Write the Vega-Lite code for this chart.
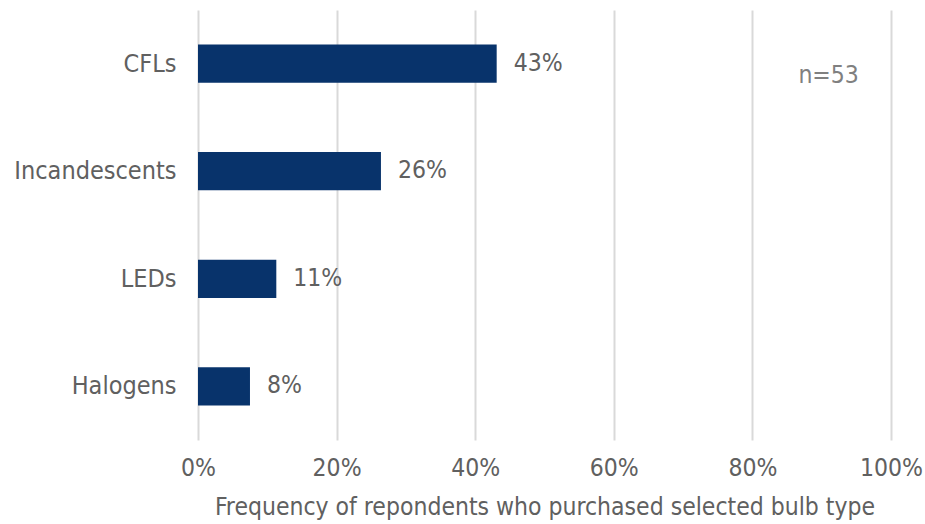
{
  "$schema": "https://vega.github.io/schema/vega-lite/v6.json",
  "width": 693,
  "height": 430,
  "autosize": "none",
  "padding": {"left": 198, "top": 10, "right": 34, "bottom": 84},
  "config": {
    "font": "DejaVu Sans Condensed, Liberation Sans",
    "view": {"stroke": null},
    "axis": {"labelFont": "DejaVu Sans Condensed, Liberation Sans", "titleFont": "DejaVu Sans Condensed, Liberation Sans", "labelColor": "#606060", "titleColor": "#606060"}
  },
  "datasets": {
    "bars": [
      {"type": "CFLs", "value": 0.431, "label": "43%"},
      {"type": "Incandescents", "value": 0.264, "label": "26%"},
      {"type": "LEDs", "value": 0.113, "label": "11%"},
      {"type": "Halogens", "value": 0.075, "label": "8%"}
    ],
    "note": [{"type": "CFLs", "value": 0.91, "label": "n=53"}]
  },
  "layer": [
    {
      "data": {"name": "bars"},
      "mark": {"type": "bar", "color": "#08336B"},
      "encoding": {
        "y": {"field": "type", "type": "nominal", "sort": ["CFLs", "Incandescents", "LEDs", "Halogens"],
          "scale": {"domain": ["CFLs", "Incandescents", "LEDs", "Halogens"], "paddingInner": 0.645, "paddingOuter": 0.32},
          "axis": {"title": null, "domain": false, "ticks": false, "labelFontSize": 25, "labelPadding": 22, "grid": false}},
        "x": {"field": "value", "type": "quantitative",
          "scale": {"domain": [0, 1], "nice": false},
          "axis": {"format": "%", "values": [0, 0.2, 0.4, 0.6, 0.8, 1], "domain": false, "ticks": false, "labelOverlap": false, "labelBound": false, "labelFlush": false,
            "grid": true, "gridColor": "#d9d9d9", "gridWidth": 2,
            "labelFontSize": 24.5, "labelPadding": 16,
            "title": "Frequency of repondents who purchased selected bulb type", "titleFontSize": 24.5, "titleFontWeight": "normal", "titlePadding": 16}}
      }
    },
    {
      "data": {"name": "bars"},
      "mark": {"type": "text", "align": "left", "dx": 17, "fontSize": 24.5, "color": "#606060"},
      "encoding": {
        "y": {"field": "type", "type": "nominal", "sort": ["CFLs", "Incandescents", "LEDs", "Halogens"]},
        "x": {"field": "value", "type": "quantitative"},
        "text": {"field": "label"}
      }
    },
    {
      "data": {"name": "note"},
      "mark": {"type": "text", "align": "center", "dy": 12, "fontSize": 24.5, "color": "#808080"},
      "encoding": {
        "y": {"field": "type", "type": "nominal"},
        "x": {"field": "value", "type": "quantitative"},
        "text": {"field": "label"}
      }
    }
  ]
}
